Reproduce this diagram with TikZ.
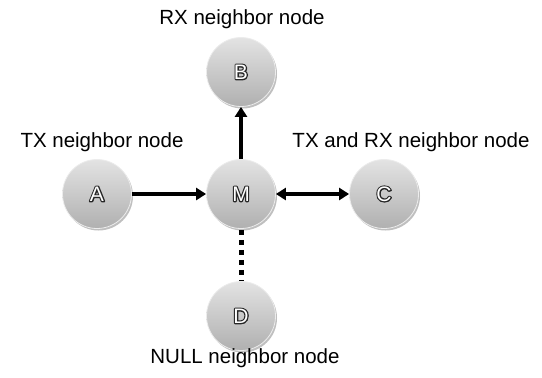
\documentclass[tikz,border=0pt]{standalone}
\usepackage{fontspec}
\setmainfont{Liberation Sans}
\usetikzlibrary{arrows.meta,shadows}
\begin{document}
\begin{tikzpicture}[x=1pt,y=-1pt,
  ball/.style={circle,minimum size=69pt,inner sep=0pt,
    top color=gray!22,bottom color=gray!62,middle color=gray!42,
    draw=gray!15,line width=0.8pt,
    drop shadow={shadow xshift=1.5pt,shadow yshift=-2pt,opacity=0.25,fill=black},
    font=\fontsize{21pt}{24pt}\selectfont},
  lbl/.style={font=\fontsize{20.5pt}{24pt}\selectfont,inner sep=0pt},
  conn/.style={line width=3.2pt,-{Triangle[length=10pt,width=12pt]}},
  biconn/.style={line width=3.2pt,{Triangle[length=10pt,width=12pt]}-{Triangle[length=10pt,width=12pt]}},
  nullconn/.style={line width=5pt,dash pattern=on 5pt off 5pt}]
\useasboundingbox (0,0) rectangle (542,378);
\newcommand{\outl}[1]{\rlap{\color{black!85}\special{pdf:literal direct 0.15 G 2.4 w 1 j 1 Tr}#1\special{pdf:literal direct 0 Tr}}{\color{white}#1}}
\node[ball] (B) at (241,72) {\outl{B}};
\node[ball] (A) at (97,194) {\outl{A}};
\node[ball] (M) at (241,194) {\outl{M}};
\node[ball] (C) at (384,194) {\outl{C}};
\node[ball] (D) at (241,316) {\outl{D}};
\node[lbl] (lB) at (242,19) {RX neighbor node};
\node[lbl] (lA) at (102,142) {TX neighbor node};
\node[lbl] (lC) at (411,142) {TX and RX neighbor node};
\node[lbl] (lD) at (245,358) {NULL neighbor node};
\draw[conn] (A) -- (M);
\draw[conn] (M) -- (B);
\draw[biconn] (M) -- (C);
\draw[nullconn] ([yshift=-1pt]M.south) -- (D.north);
\end{tikzpicture}
\end{document}
